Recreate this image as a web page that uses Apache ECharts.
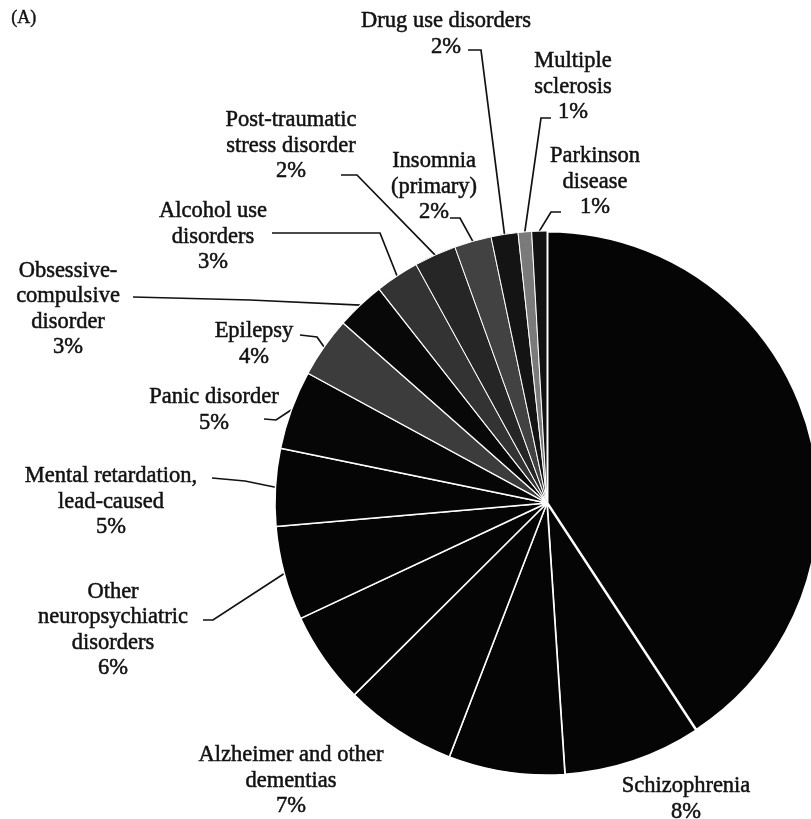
<!DOCTYPE html>
<html><head><meta charset="utf-8">
<script src="https://cdn.jsdelivr.net/npm/echarts@6/dist/echarts.min.js"></script>
<style>html,body{margin:0;padding:0;background:#fff}#c{width:811px;height:819px}</style>
</head><body><div id="c"></div>
<script>
// ---- data ----
const categories = ['Unipolar depressive disorders','Schizophrenia','Bipolar affective disorder','Alzheimer and other dementias','Migraine','Other neuropsychiatric disorders','Mental retardation, lead-caused','Panic disorder','Epilepsy','Obsessive-compulsive disorder','Alcohol use disorders','Post-traumatic stress disorder','Insomnia (primary)','Drug use disorders','Multiple sclerosis','Parkinson disease'];
const values = [40.8, 8.2, 6.9, 6.7, 5.5, 5.6, 4.6, 4.7, 3.6, 2.9, 2.6, 2.5, 2.2, 1.6, 0.8, 0.9];
const shownPct = ['', '8%', '', '7%', '', '6%', '5%', '5%', '4%', '3%', '3%', '2%', '2%', '2%', '1%', '1%'];
const labelText = [null, ['Schizophrenia'], null, ['Alzheimer and other','dementias'], null, ['Other','neuropsychiatric','disorders'], ['Mental retardation,','lead-caused'], ['Panic disorder'], ['Epilepsy'], ['Obsessive-','compulsive','disorder'], ['Alcohol use','disorders'], ['Post-traumatic','stress disorder'], ['Insomnia','(primary)'], ['Drug use disorders'], ['Multiple','sclerosis'], ['Parkinson','disease']];

// ---- styles / layout ----
const fills = ['#050505','#050505','#050505','#050505','#050505','#050505','#050505','#060606','#3c3c3c','#080808','#333333','#262626','#424242','#141414','#7a7a7a','#121212'];
const borderW = [3,2,1.5,1.5,1.5,1.5,1.5,1.5,1.2,1.2,1.2,1,1,1,1,1];
const labelCenter = [null,[686,799],null,[291,781],null,[113,630],[111,502],[214,410],[254,344],[68,309],[213,237],[291,146],[434,187],[446,34],[573,87],[595,182]];
const leaderBends = [null,null,null,null,null,[[213,620],[203,620]],[[245,481],[212,478]],[[276,420],[264,419]],[[317,337],[300,335]],[[250,300],[133,297]],[[380,233],[272,233]],[[357,175],[341,175]],[[460,218],[450,218]],[[481,50],[468,50]],[[541,118],[551,118]],[[551,212],[561,212]]];

const data = categories.map((name, i) => {
  const hasLabel = !!labelText[i];
  return {
    name, value: values[i],
    itemStyle: { color: fills[i], borderColor: '#fff', borderWidth: borderW[i] },
    label: { show: hasLabel, formatter: hasLabel ? labelText[i].concat([shownPct[i]]).join('\n') : '' },
    labelLine: { show: hasLabel && !!leaderBends[i] }
  };
});

const chart = echarts.init(document.getElementById('c'), null, { renderer: 'canvas' });
chart.setOption({
  animation: false,
  backgroundColor: '#fff',
  graphic: [{ type: 'text', left: 11, top: 9, style: { text: '(A)', fontFamily: 'Liberation Serif', fontSize: 18, fill: '#111', stroke: '#111', lineWidth: 0.4 } }],
  series: [{
    type: 'pie',
    center: [547, 503],
    radius: [0, 272],
    startAngle: 90,
    clockwise: true,
    avoidLabelOverlap: false,
    data,
    label: {
      position: 'outside',
      fontFamily: 'Liberation Serif',
      fontSize: 22.5,
      lineHeight: 25.5,
      color: '#111',
      textBorderColor: '#111',
      textBorderWidth: 0.5,
      align: 'center'
    },
    labelLine: { show: true, length: 10, length2: 10, lineStyle: { color: '#111', width: 1.7 } },
    emphasis: { disabled: true },
    labelLayout: function (params) {
      const i = params.dataIndex;
      const c = labelCenter[i];
      if (!c) return {};
      const out = { x: c[0], y: c[1], align: 'center', verticalAlign: 'middle' };
      const b = leaderBends[i];
      if (b && params.labelLinePoints && params.labelLinePoints.length) {
        out.labelLinePoints = [params.labelLinePoints[0]].concat(b);
      }
      return out;
    }
  }]
});
</script>
</body></html>
